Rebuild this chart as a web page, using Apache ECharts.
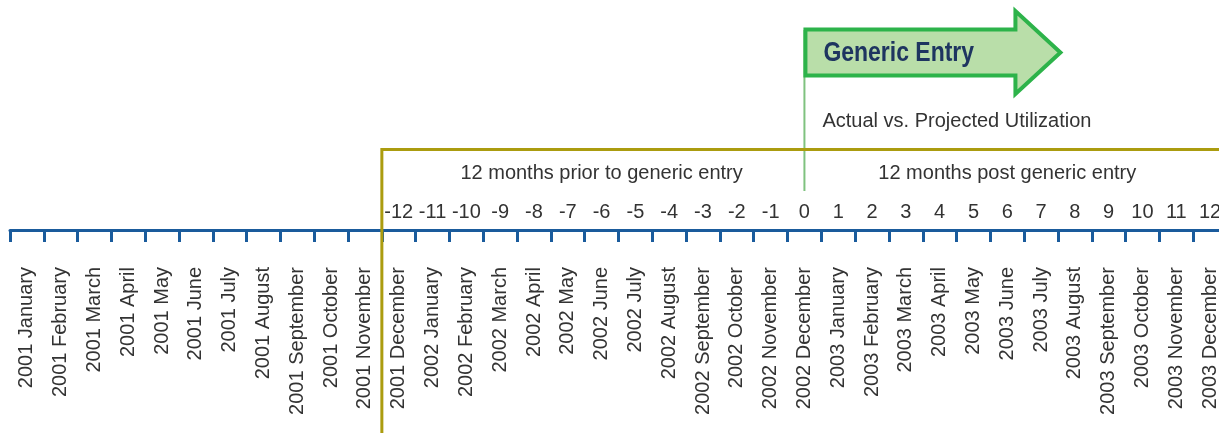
<!DOCTYPE html>
<html>
<head>
<meta charset="utf-8">
<script src="https://cdn.jsdelivr.net/npm/echarts@6/dist/echarts.min.js"></script>
<style>
html,body{margin:0;padding:0;background:#fff;overflow:hidden;width:1219px;height:433px;}
#chart{width:1227px;height:433px;}
</style>
</head>
<body>
<div id="chart"></div>
<script>
const months = [
  '2001 January','2001 February','2001 March','2001 April','2001 May','2001 June',
  '2001 July','2001 August','2001 September','2001 October','2001 November','2001 December',
  '2002 January','2002 February','2002 March','2002 April','2002 May','2002 June',
  '2002 July','2002 August','2002 September','2002 October','2002 November','2002 December',
  '2003 January','2003 February','2003 March','2003 April','2003 May','2003 June',
  '2003 July','2003 August','2003 September','2003 October','2003 November','2003 December'
];
const offsetLabels = ['-12','-11','-10','-9','-8','-7','-6','-5','-4','-3','-2','-1','0',
  '1','2','3','4','5','6','7','8','9','10','11','12'];
const firstOffsetMonth = '2001 December';
const entryMonth = '2002 December';
const lastMonth = '2003 December';
const priorText = '12 months prior to generic entry';
const postText = '12 months post generic entry';
const entryTitle = 'Generic Entry';
const subtitle = 'Actual vs. Projected Utilization';

const FONT = '"Liberation Sans", Arial, Helvetica, sans-serif';
const firstIdx = months.indexOf(firstOffsetMonth);
const topAxisData = months.map((m, i) => (i >= firstIdx ? offsetLabels[i - firstIdx] : ''));

const chart = echarts.init(document.getElementById('chart'), null, {renderer: 'canvas'});
chart.setOption({
  animation: false,
  grid: {left: 10, right: 0, top: 229, height: 1, containLabel: false},
  xAxis: [{
    type: 'category', data: months, position: 'bottom', boundaryGap: true,
    axisLine: {show: true, lineStyle: {color: '#1a5b9c', width: 3}},
    axisTick: {show: true, length: 12, interval: 0, lineStyle: {color: '#1a5b9c', width: 3}},
    axisLabel: {show: true, interval: 0, rotate: 90, margin: 37, color: '#333333',
      fontFamily: FONT, fontSize: 20},
    splitLine: {show: false}
  }, {
    type: 'category', data: topAxisData, position: 'top', boundaryGap: true,
    axisLine: {show: false}, axisTick: {show: false},
    axisLabel: {show: true, interval: 0, margin: 17, verticalAlign: 'middle', color: '#333333',
      fontFamily: FONT, fontSize: 20},
    splitLine: {show: false}
  }],
  yAxis: {type: 'value', show: false, min: 0, max: 1},
  series: []
});

const cx = (m) => chart.convertToPixel({xAxisIndex: 0}, m);
const band = cx(months[1]) - cx(months[0]);
const xBracket = cx(firstOffsetMonth) - band / 2;
const xFirst = cx(firstOffsetMonth);
const x0 = cx(entryMonth);
const xLast = cx(lastMonth);
const W = 1227, H = 433;

chart.setOption({
  graphic: [
    {type: 'polyline', z: 10, shape: {points: [[xBracket, H], [xBracket, 149.5], [W + 5, 149.5]]},
      style: {stroke: '#ab9c0f', lineWidth: 3, fill: null}},
    {type: 'line', z: 9, shape: {x1: x0, y1: 30, x2: x0, y2: 191},
      style: {stroke: '#7fc27f', lineWidth: 2}},
    {type: 'polygon', z: 11, shape: {points: [
        [x0 + 1, 29.5], [x0 + 211, 29.5], [x0 + 211, 11], [x0 + 256, 52.5],
        [x0 + 211, 94], [x0 + 211, 75.5], [x0 + 1, 75.5]]},
      style: {fill: '#b9dea9', stroke: '#2db34a', lineWidth: 4, lineJoin: 'miter'}},
    {type: 'text', z: 12, x: x0 + 19, y: 53, scaleX: 0.82,
      style: {text: entryTitle, x: 0, y: 0, fill: '#1e3560', fontFamily: FONT, fontSize: 28,
        fontWeight: 'bold', align: 'left', verticalAlign: 'middle'}},
    {type: 'text', z: 12, style: {text: subtitle, x: x0 + 18, y: 121, fill: '#333333',
        fontFamily: FONT, fontSize: 20, align: 'left', verticalAlign: 'middle'}},
    {type: 'text', z: 12, style: {text: priorText, x: (xFirst + x0) / 2, y: 173, fill: '#333333',
        fontFamily: FONT, fontSize: 20, align: 'center', verticalAlign: 'middle'}},
    {type: 'text', z: 12, style: {text: postText, x: (x0 + xLast) / 2, y: 173, fill: '#333333',
        fontFamily: FONT, fontSize: 20, align: 'center', verticalAlign: 'middle'}}
  ]
});
</script>
</body>
</html>
